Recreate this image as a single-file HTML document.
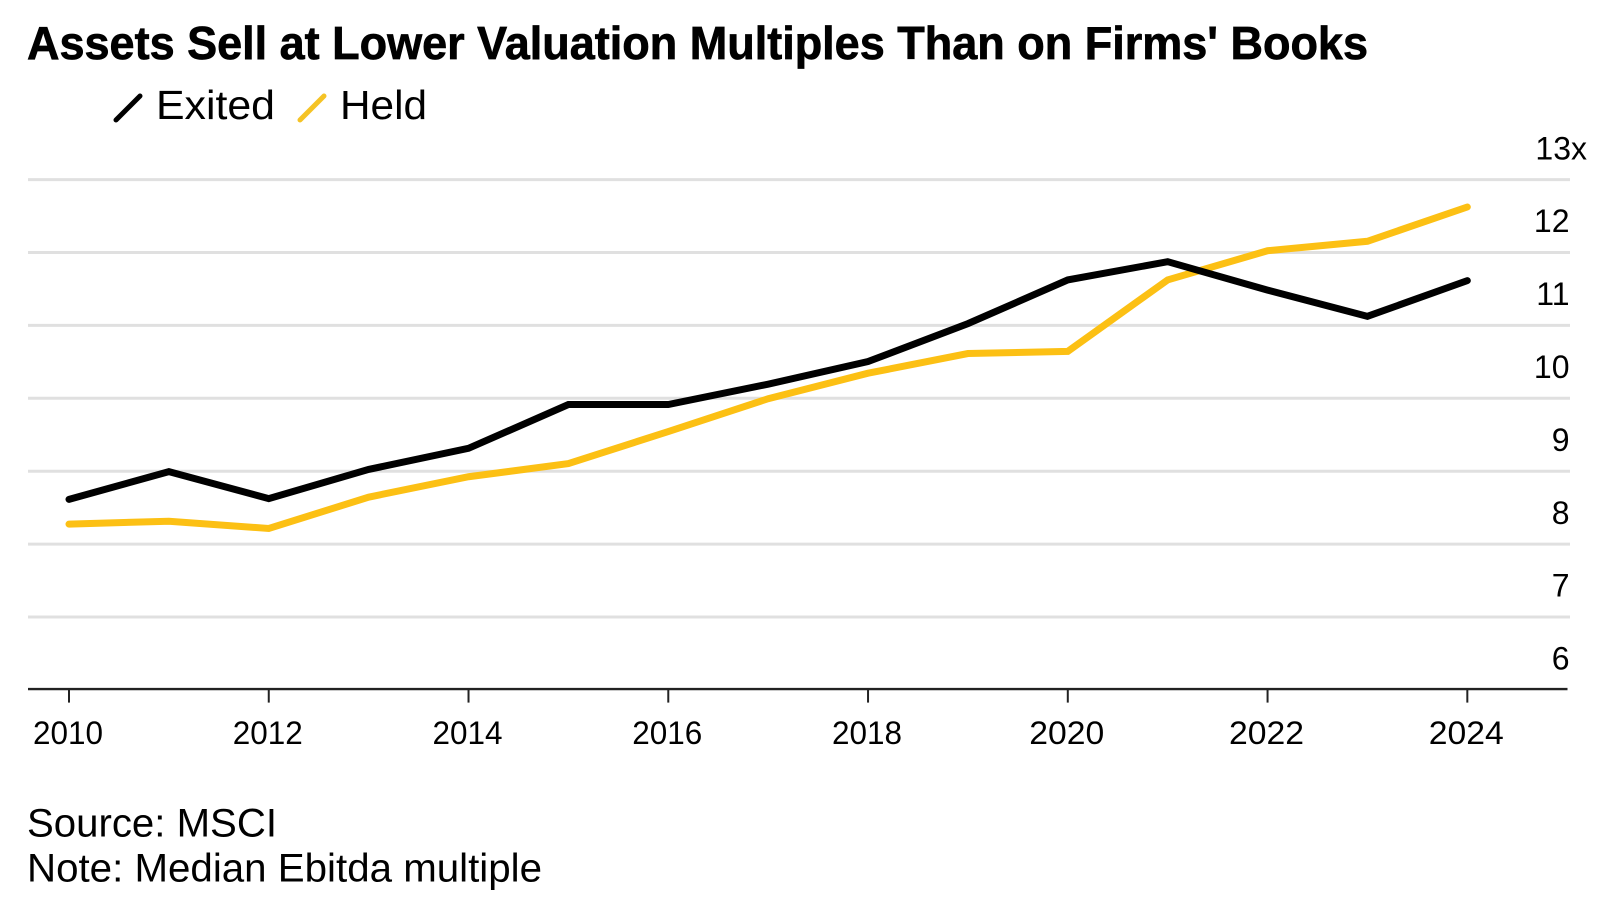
<!DOCTYPE html>
<html lang="en">
<head>
<meta charset="utf-8">
<title>Assets Sell at Lower Valuation Multiples Than on Firms' Books</title>
<style>
html,body{margin:0;padding:0;background:#fff;width:1600px;height:907px;overflow:hidden}
svg{display:block}
text{font-family:"Liberation Sans",Arial,sans-serif;fill:#000}
</style>
</head>
<body>
<svg id="chart" xmlns="http://www.w3.org/2000/svg" width="1600" height="907" viewBox="0 0 1600 907">
  <rect x="0" y="0" width="1600" height="907" fill="#ffffff"/>
  <text x="27" y="59" font-size="46" font-weight="700" stroke="#000000" stroke-width="0.7" textLength="1341" lengthAdjust="spacingAndGlyphs">Assets Sell at Lower Valuation Multiples Than on Firms' Books</text>
  <g>
    <line x1="116" y1="120" x2="140" y2="96" stroke="#000000" stroke-width="5" stroke-linecap="round"/>
    <text x="156" y="119" font-size="41" textLength="119" lengthAdjust="spacingAndGlyphs">Exited</text>
    <line x1="300" y1="120" x2="324" y2="96" stroke="#f5c325" stroke-width="5" stroke-linecap="round"/>
    <text x="340" y="119" font-size="41" textLength="87" lengthAdjust="spacingAndGlyphs">Held</text>
  </g>
  <g id="grid"></g>
  <g id="yLabels"></g>
  <g id="xAxis"></g>
  <g id="series"></g>
  <text x="27" y="836.5" font-size="39.5" textLength="250" lengthAdjust="spacingAndGlyphs">Source: MSCI</text>
  <text x="27" y="881.5" font-size="39.5" textLength="515" lengthAdjust="spacingAndGlyphs">Note: Median Ebitda multiple</text>
</svg>
<script>
const years = [2010,2011,2012,2013,2014,2015,2016,2017,2018,2019,2020,2021,2022,2023,2024];
const exitedValues = [8.61,8.99,8.62,9.02,9.31,9.91,9.91,10.19,10.5,11.02,11.62,11.87,11.48,11.12,11.61];
const heldValues = [8.27,8.31,8.21,8.64,8.92,9.1,9.54,9.99,10.34,10.61,10.64,11.62,12.02,12.15,12.62];
const yTicks = [13,12,11,10,9,8,7,6];
const yTickLabels = ['13x','12','11','10','9','8','7','6'];
const xTicks = [2010,2012,2014,2016,2018,2020,2022,2024];

const NS = 'http://www.w3.org/2000/svg';
function xScale(year){ return 69 + (year - 2010) * 99.88; }
function yScale(v){ return 689.6 - (v - 6) * 72.9; }
function make(tag, attrs, parent){
  const el = document.createElementNS(NS, tag);
  for (const k in attrs) el.setAttribute(k, attrs[k]);
  parent.appendChild(el);
  return el;
}

const grid = document.getElementById('grid');
const yLabels = document.getElementById('yLabels');
yTicks.forEach(function(t, i){
  if (t !== 6) {
    const g = make('line', {x1:28, x2:1570, y1:yScale(t) + 0.3, y2:yScale(t) + 0.3, stroke:'#e0e0e0', 'stroke-width':3}, grid);
    
    
  }
  const lbl = make('text', {x:1569.5, y:yScale(t) - 20, 'font-size':32, 'text-anchor':'end'}, yLabels);
  if (i === 0) { lbl.setAttribute('x', 1587); }
  lbl.textContent = yTickLabels[i];
  
  
});

const xAxis = document.getElementById('xAxis');
const axisLine = make('line', {x1:28, x2:1567.5, y1:yScale(6) - 0.5, y2:yScale(6) - 0.5, stroke:'#222222', 'stroke-width':2.4}, xAxis);


xTicks.forEach(function(yr){
  const tick = make('line', {x1:xScale(yr), x2:xScale(yr), y1:yScale(6), y2:yScale(6) + 13, stroke:'#222222', 'stroke-width':2}, xAxis);
  
  
  const lbl = make('text', {x:xScale(yr) - 1, y:744, 'font-size':32, 'text-anchor':'middle', textLength: yr >= 2020 ? 75 : 70, lengthAdjust:'spacingAndGlyphs'}, xAxis);
  lbl.textContent = String(yr);
  
  
});

function linePath(values){
  return values.map(function(v, i){
    return (i ? 'L' : 'M') + xScale(years[i]).toFixed(2) + ' ' + yScale(v).toFixed(2);
  }).join(' ');
}
const seriesGroup = document.getElementById('series');
const heldLine = make('path', {d:linePath(heldValues), fill:'none', stroke:'#fcc014', 'stroke-width':7, 'stroke-linecap':'round', 'stroke-linejoin':'miter'}, seriesGroup);


const exitedLine = make('path', {d:linePath(exitedValues), fill:'none', stroke:'#000000', 'stroke-width':7, 'stroke-linecap':'round', 'stroke-linejoin':'miter'}, seriesGroup);


</script>
</body>
</html>
